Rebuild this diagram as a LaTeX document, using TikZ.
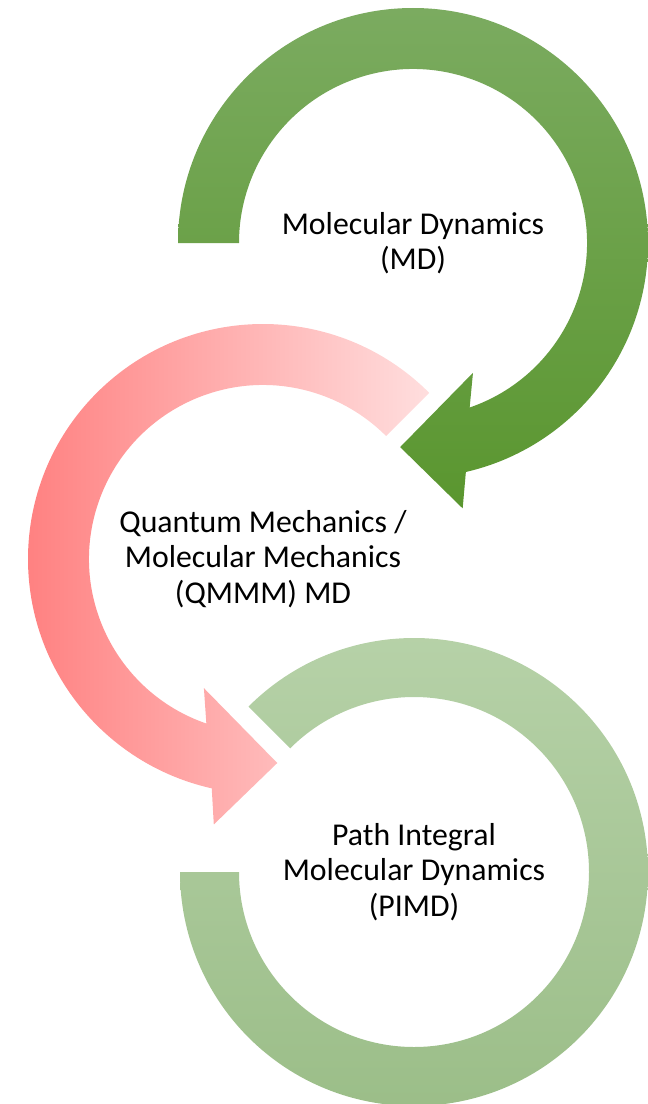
\documentclass[tikz,border=0pt]{standalone}
\usepackage{fontspec}
\setmainfont{Carlito}
\definecolor{mdtop}{HTML}{7BAB60}
\definecolor{mdbot}{HTML}{5A962F}
\definecolor{qmleft}{HTML}{FF7C7C}
\definecolor{qmright}{HTML}{FFDEDE}
\definecolor{pitop}{HTML}{B7D2A9}
\definecolor{pibot}{HTML}{9ABD87}
\tikzset{
  ringlabel/.style={align=center, inner sep=0pt,
    font=\fontsize{22.6pt}{25.3pt}\selectfont}
}
\begin{document}
\begin{tikzpicture}[x=0.025cm,y=0.025cm]

        \useasboundingbox (0,0) rectangle (648,-1104);

        \coordinate (c1) at (413,-243);
        \coordinate (c2) at (263,-559);
        \coordinate (c3) at (414,-872);

        \shade[top color=mdtop, bottom color=mdbot]
          ([shift={(180:235)}]c1) arc[start angle=180, end angle=-77, radius=235]
          -- ([shift={(-79.4:270)}]c1) -- ([shift={(-93.6:204.5)}]c1)
          -- ([shift={(-65.2:143)}]c1) -- ([shift={(-71:174)}]c1)
          arc[start angle=-71, end angle=180, radius=174] -- cycle;

        \shade[left color=qmleft, right color=qmright]
          ([shift={(45:235)}]c2) arc[start angle=45, end angle=257.4, radius=235]
          -- ([shift={(259.5:270)}]c2) -- ([shift={(274:204.5)}]c2)
          -- ([shift={(245.4:142)}]c2) -- ([shift={(251:174)}]c2)
          arc[start angle=251, end angle=45, radius=174] -- cycle;

        \shade[top color=pitop, bottom color=pibot]
          ([shift={(135:234)}]c3) arc[start angle=135, end angle=-180, radius=234]
          -- ([shift={(180:175)}]c3)
          arc[start angle=-180, end angle=135, radius=175] -- cycle;

        \begin{scope}[every node/.style={ringlabel}]
          \node (md)   at (c1) {Molecular Dynamics\\(MD)};
          \node (qmmm) at (c2) {Quantum Mechanics /\\Molecular Mechanics\\(QMMM) MD};
          \node (pimd) at (c3) {Path Integral\\Molecular Dynamics\\(PIMD)};
        \end{scope}

      \end{tikzpicture}
\end{document}
